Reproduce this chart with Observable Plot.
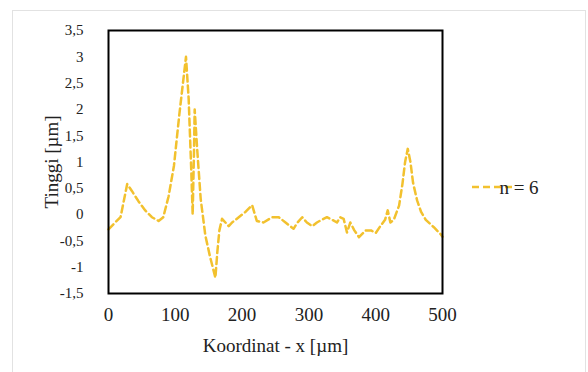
<!DOCTYPE html>
<html>
<head>
<meta charset="utf-8">
<script src="https://cdn.jsdelivr.net/npm/d3@7"></script>
<script src="https://cdn.jsdelivr.net/npm/@observablehq/plot@0.6"></script>
<style>
  html, body { margin: 0; padding: 0; background: #fff; }
  #chart { width: 588px; height: 372px; }
</style>
</head>
<body>
<div id="chart"></div>
<script>
const seriesName = "n = 6";
const xValues = [0, 10, 18, 28, 35, 45, 55, 65, 75, 82, 90, 98, 106, 116, 120, 124, 126, 128, 129, 133, 138, 145, 152, 160, 163, 166, 170, 175, 180, 185, 195, 205, 215, 218, 222, 232, 245, 255, 265, 277, 283, 290, 297, 305, 312, 319, 327, 335, 342, 347, 352, 357, 362, 368, 375, 385, 393, 400, 408, 414, 418, 422, 427, 435, 440, 444, 448, 452, 456, 462, 468, 475, 487, 497, 500];
const yValues = [-0.28, -0.15, -0.05, 0.58, 0.45, 0.25, 0.08, -0.05, -0.12, -0.05, 0.35, 0.93, 1.9, 3.0, 2.2, 0.8, 0.0, 1.2, 2.0, 1.2, 0.3, -0.4, -0.8, -1.2, -0.7, -0.3, -0.08, -0.15, -0.22, -0.15, -0.05, 0.05, 0.18, 0.05, -0.12, -0.15, -0.05, -0.05, -0.15, -0.27, -0.15, -0.05, -0.15, -0.22, -0.15, -0.1, -0.05, -0.1, -0.15, -0.05, -0.08, -0.34, -0.15, -0.3, -0.43, -0.3, -0.3, -0.35, -0.2, -0.1, 0.08, -0.15, -0.1, 0.17, 0.58, 1.0, 1.25, 1.0, 0.6, 0.27, 0.05, -0.1, -0.24, -0.37, -0.42];
const xTicks = [0, 100, 200, 300, 400, 500];
const yTicks = [-1.5, -1, -0.5, 0, 0.5, 1, 1.5, 2, 2.5, 3, 3.5];
const xLabel = "Koordinat - x [µm]";
const yLabel = "Tinggi [µm]";

const data = xValues.map((x, i) => ({x, y: yValues[i]}));
const color = "#f2c12e";
const font = "'Times New Roman', 'Liberation Serif', Tinos, serif";

const plot = Plot.plot({
  width: 588,
  height: 372,
  marginLeft: 108,
  marginRight: 146,
  marginTop: 30,
  marginBottom: 79,
  style: {fontFamily: font, color: "#222", background: "#fff", overflow: "visible"},
  x: {domain: [0, 500]},
  y: {domain: [-1.5, 3.5]},
  marks: [
    Plot.line(data, {x: "x", y: "y", stroke: color, strokeWidth: 2.5, strokeDasharray: "7,4", strokeLinejoin: "round"}),
    Plot.frame({stroke: "#000", strokeWidth: 2}),
    Plot.axisY({ticks: yTicks, tickSize: 0, tickPadding: 25, fontSize: 15,
      tickFormat: d => String(d).replace(".", ","),
      label: yLabel, labelAnchor: "center", labelArrow: "none", labelOffset: 64}),
    Plot.axisX({ticks: xTicks, tickSize: 0, tickPadding: 14, fontSize: 19,
      label: xLabel, labelAnchor: "center", labelArrow: "none", labelOffset: 58})
  ]
});

document.getElementById("chart").appendChild(plot);

const svg = d3.select(plot);
// axis label font sizes
svg.selectAll("g[aria-label='y-axis label'] text, g[aria-label='x-axis label'] text")
  .attr("font-size", 19).attr("fill", "#222");
// chart-area border
svg.insert("rect", ":first-child")
  .attr("x", 12.5).attr("y", 10.5).attr("width", 573).attr("height", 370)
  .attr("fill", "none").attr("stroke", "#e2e2e2").attr("stroke-width", 1);
// legend
const lg = svg.append("g").attr("aria-label", "legend");
lg.append("line")
  .attr("x1", 472).attr("x2", 516).attr("y1", 187).attr("y2", 187)
  .attr("stroke", color).attr("stroke-width", 2.5).attr("stroke-dasharray", "7,4");
lg.append("text")
  .attr("x", 519).attr("y", 187).attr("dy", "0.35em")
  .attr("font-size", 19).attr("fill", "#222")
  .text(seriesName);
svg.selectAll("g").attr("font-variant", null);
svg.selectAll("text").style("font-family", font).style("font-variant-numeric", "normal");
</script>
</body>
</html>
